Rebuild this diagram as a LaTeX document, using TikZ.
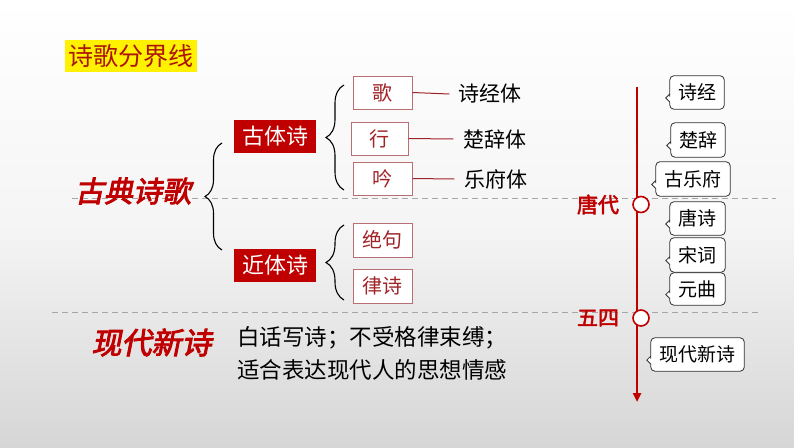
\documentclass[tikz,border=0pt]{standalone}
\usepackage{fontspec}
\usetikzlibrary{calc,arrows.meta,decorations.pathreplacing}
\newfontfamily\cjk{Noto Sans CJK SC}
\newfontfamily\cjkcal[FakeBold=3,FakeSlant=0.2]{Noto Sans CJK SC}
\newfontfamily\cjkbold[FakeBold=2.5]{Noto Sans CJK SC}
\definecolor{dred}{RGB}{192,0,0}
\definecolor{bred}{RGB}{160,35,40}
\definecolor{bord}{RGB}{185,110,115}
\definecolor{bgbot}{RGB}{214,214,214}
\pgfdeclarelayer{back}\pgfdeclarelayer{bg}\pgfsetlayers{back,bg,main}
\tikzset{
  redbox/.style={fill=dred, text=white, inner sep=0, minimum width=82pt, minimum height=33pt, font={\cjk\fontsize{22}{24}\selectfont}},
  wbox/.style={fill=white, draw=bord, line width=1pt, text=bred, inner sep=0, minimum width=59pt, minimum height=33pt, font={\cjk\fontsize{20}{22}\selectfont}},
  plain/.style={text=black, inner ysep=0, inner xsep=9pt, font={\cjk\fontsize{21}{23}\selectfont}},
  calltext/.style={text=black, inner sep=0, minimum width=55pt, minimum height=33pt, font={\cjk\fontsize{19}{21}\selectfont}},
  callbd/.style={draw=black!80, fill=white, line width=0.8pt},
  curly/.style={decorate, decoration={brace, amplitude=#1}, draw=black, line width=1.1pt},
  link/.style={draw=bred, line width=1pt},
  dashln/.style={draw=black!35, line width=1pt, dash pattern=on 6pt off 4pt},
  cal/.style={text=dred, inner sep=0, font={\cjkcal\fontsize{29}{31}\selectfont}},
  ring/.style={circle, draw=dred, fill=white, line width=1.6pt, minimum size=16pt, inner sep=0},
}
\newcommand\mycallout[1]{%
\begin{pgfonlayer}{bg}
\draw[callbd] ($(#1.west)+(0,1.5)$) -- ($(#1.west)+(-4,5.5)$) -- ($(#1.west)+(0,9.5)$) [rounded corners=4pt] -- (#1.south west) -- (#1.south east) -- (#1.north east) -- (#1.north west) -- ($(#1.west)+(0,0)$) [sharp corners] -- cycle;
\end{pgfonlayer}}
\begin{document}
\begin{tikzpicture}[x=1pt,y=-1pt]
\useasboundingbox (0,0) rectangle (794,447);
\begin{pgfonlayer}{back}
\shade[top color=white, bottom color=bgbot, middle color=white!96!black] (0,0) rectangle (794,447);
\end{pgfonlayer}
% dashed separators
\coordinate (d1a) at (72,198); \coordinate (d1b) at (776,198);
\coordinate (d2a) at (52,312); \coordinate (d2b) at (762,312);
\draw[dashln] (d1a) -- (d1b);
\draw[dashln] (d2a) -- (d2b);
% title
\node[fill=yellow, text={rgb,255:red,170;green,20;blue,10}, inner sep=0, minimum width=132pt, minimum height=32pt, font={\cjk\fontsize{25}{27}\selectfont}] (title) at (131,56) {诗歌分界线};
% left labels
\node[cal] (gudian) at (133,191) {古典诗歌};
\node[cal, font={\cjkcal\fontsize{30}{32}\selectfont}] (xiandai) at (151.5,342.5) {现代新诗};
% big brace
\coordinate (b1a) at (222,250); \coordinate (b1b) at (222,143);
\draw[curly=17pt] (b1a) -- (b1b);
\node[redbox] (guti) at (275,136.5) {古体诗};
\node[redbox] (jinti) at (275,265.5) {近体诗};
% braces for guti and jinti
\coordinate (b2a) at (344,190); \coordinate (b2b) at (344,85);
\draw[curly=18pt] (b2a) -- (b2b);
\coordinate (b3a) at (344,300); \coordinate (b3b) at (344,225);
\draw[curly=18pt] (b3a) -- (b3b);
% small boxes
\node[wbox] (ge) at (382.5,92.5) {歌};
\node[wbox, minimum width=57pt] (xing) at (379.5,138.5) {行};
\node[wbox] (yin) at (382.5,178.5) {吟};
\node[wbox, minimum height=34pt] (jueju) at (382.5,240) {绝句};
\node[wbox, minimum height=34pt] (lvshi) at (382.5,286) {律诗};
% right texts
\node[plain] (shijingti) at (490,94) {诗经体};
\node[plain, inner xsep=10pt] (ciciti) at (495,139) {楚辞体};
\node[plain, inner xsep=9.5pt] (yuefuti) at (495.5,179) {乐府体};
\draw[link] (ge.east) -- (shijingti.west);
\draw[link] (xing.east) -- (ciciti.west);
\draw[link] (yin.east) -- (yuefuti.west);
% description
\node[anchor=west, align=left, inner sep=0, text=black, font={\cjk\fontsize{22.5}{33}\selectfont}] (desc) at (237,353.5) {白话写诗；不受格律束缚；\\适合表达现代人的思想情感};
% timeline
\coordinate (ttop) at (637,87); \coordinate (tbot) at (637,402);
\draw[dred, line width=2.8pt, -{Triangle[length=9pt,width=8pt]}] (ttop) -- (tbot);
\node[ring] (c1) at (641,204.5) {};
\node[ring] (c2) at (641,318) {};
\node[text=dred, inner sep=0, font={\cjkbold\fontsize{21}{23}\selectfont}] (tang) at (598,204.5) {唐代};
\node[text=dred, inner sep=0, font={\cjkbold\fontsize{21}{23}\selectfont}] (wusi) at (598,318) {五四};
% callouts
\node[calltext, minimum width=54pt] (k1) at (697,92.5) {诗经};
\node[calltext, minimum width=54pt, minimum height=34pt] (k2) at (698,140) {楚辞};
\node[calltext, minimum width=74pt, minimum height=34pt] (k3) at (693,179) {古乐府};
\node[calltext] (k4) at (697.5,218.5) {唐诗};
\node[calltext, minimum height=34pt] (k5) at (697.5,255) {宋词};
\node[calltext, minimum height=32pt] (k6) at (697.5,289) {元曲};
\node[calltext, minimum width=93pt] (k7) at (697.5,354.5) {现代新诗};
\mycallout{k1}\mycallout{k2}\mycallout{k3}\mycallout{k4}\mycallout{k5}\mycallout{k6}\mycallout{k7}
\end{tikzpicture}
\end{document}
